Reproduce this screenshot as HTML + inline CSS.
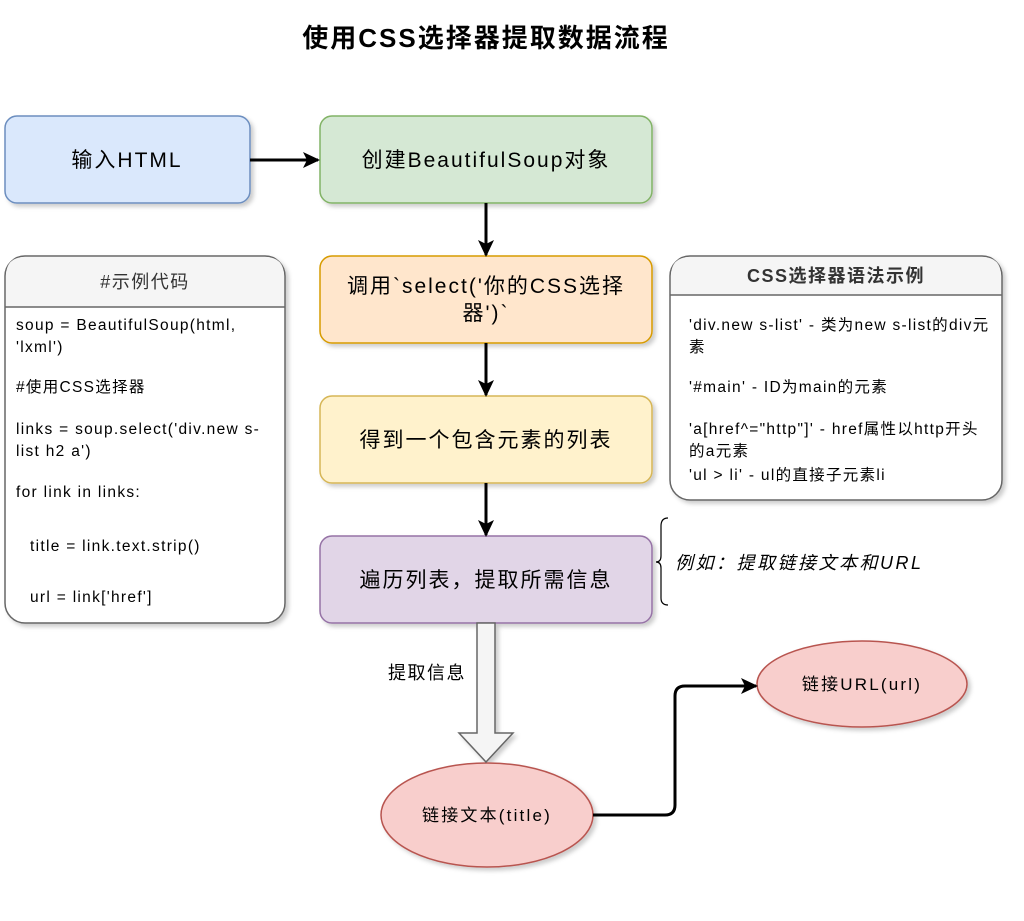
<!DOCTYPE html>
<html><head><meta charset="utf-8"><style>
html,body{margin:0;padding:0;background:#fff;}
svg text{font-family:"Liberation Sans","Noto Sans CJK SC",sans-serif;}
</style></head><body>
<svg width="1024" height="916" viewBox="0 0 1024 916" xmlns="http://www.w3.org/2000/svg">
<defs>
<filter id="sh" x="-10%" y="-10%" width="130%" height="130%"><feDropShadow dx="3" dy="3" stdDeviation="2" flood-color="#000" flood-opacity="0.2"/></filter>
<marker id="ar" markerWidth="18" markerHeight="18" refX="15" refY="8" orient="auto" markerUnits="userSpaceOnUse"><path d="M0,0 L17,8 L0,16 L4,8 Z" fill="#000"/></marker>
</defs>
<text x="486" y="47" text-anchor="middle" font-size="26" font-weight="bold" letter-spacing="2" fill="#000">使用CSS选择器提取数据流程</text>

<g filter="url(#sh)">
<rect x="5" y="116" width="245" height="87" rx="12" fill="#dae8fc" stroke="#6c8ebf" stroke-width="1.5"/>
<rect x="320" y="116" width="332" height="87" rx="12" fill="#d5e8d4" stroke="#82b366" stroke-width="1.5"/>
<rect x="320" y="256" width="332" height="87" rx="12" fill="#ffe6cc" stroke="#d79b00" stroke-width="1.5"/>
<rect x="320" y="396" width="332" height="87" rx="12" fill="#fff2cc" stroke="#d6b656" stroke-width="1.5"/>
<rect x="320" y="536" width="332" height="87" rx="12" fill="#e1d5e7" stroke="#9673a6" stroke-width="1.5"/>
<rect x="5" y="256" width="280" height="367" rx="20" fill="#fff" stroke="#666" stroke-width="1.5"/>
<rect x="670" y="256" width="332" height="244" rx="20" fill="#fff" stroke="#666" stroke-width="1.5"/>
<ellipse cx="487" cy="815" rx="106" ry="52" fill="#f8cecc" stroke="#b85450" stroke-width="1.5"/>
<ellipse cx="862" cy="684" rx="105" ry="43" fill="#f8cecc" stroke="#b85450" stroke-width="1.5"/>
<path d="M477,623 L495,623 L495,733 L513,733 L486,762 L459,733 L477,733 Z" fill="#f5f5f5" stroke="#666" stroke-width="1.5"/>
</g>
<path d="M6,307 L6,276 Q6,257 25,257 L265,257 Q284,257 284,276 L284,307 Z" fill="#f5f5f5"/>
<line x1="5" y1="307" x2="285" y2="307" stroke="#666" stroke-width="1.5"/>
<path d="M671,295 L671,276 Q671,257 690,257 L982,257 Q1001,257 1001,276 L1001,295 Z" fill="#f5f5f5"/>
<line x1="670" y1="295" x2="1002" y2="295" stroke="#666" stroke-width="1.5"/>

<g stroke="#000" stroke-width="3" fill="none">
<line x1="250" y1="160" x2="318" y2="160" marker-end="url(#ar)"/>
<line x1="486" y1="203" x2="486" y2="255" marker-end="url(#ar)"/>
<line x1="486" y1="343" x2="486" y2="395" marker-end="url(#ar)"/>
<line x1="486" y1="483" x2="486" y2="535" marker-end="url(#ar)"/>
<path d="M593,815 L665,815 Q675,815 675,805 L675,696 Q675,686 685,686 L756,686" marker-end="url(#ar)"/>
</g>
<path d="M668,518 Q661,518 661,526 L661,556 Q661,562 656,562 Q661,562 661,568 L661,598 Q661,605 668,605" fill="none" stroke="#000" stroke-width="1.2"/>

<g font-size="21" letter-spacing="2" fill="#000" text-anchor="middle">
<text x="127" y="167">输入HTML</text>
<text x="486" y="167">创建BeautifulSoup对象</text>
<text x="486" y="293">调用`select('你的CSS选择</text>
<text x="486" y="320">器')`</text>
<text x="486" y="447">得到一个包含元素的列表</text>
<text x="486" y="587">遍历列表，提取所需信息</text>
</g>
<g font-size="17" letter-spacing="2.2" fill="#000" text-anchor="middle">
<text x="487" y="821">链接文本(title)</text>
<text x="862" y="690">链接URL(url)</text>
</g>
<rect x="382" y="660" width="90" height="26" fill="#fff"/>
<text x="427" y="679" font-size="18" letter-spacing="1.5" text-anchor="middle">提取信息</text>
<text x="145" y="288" font-size="18" letter-spacing="1.5" text-anchor="middle" fill="#333">#示例代码</text>
<text x="836" y="282" font-size="18" letter-spacing="1.5" font-weight="bold" text-anchor="middle" fill="#333">CSS选择器语法示例</text>
<g font-size="15.5" letter-spacing="1.3" fill="#000">
<text x="16" y="330">soup = BeautifulSoup(html,</text>
<text x="16" y="352">'lxml')</text>
<text x="16" y="392">#使用CSS选择器</text>
<text x="16" y="434">links = soup.select('div.new s-</text>
<text x="16" y="456">list h2 a')</text>
<text x="16" y="497">for link in links:</text>
<text x="30" y="551">title = link.text.strip()</text>
<text x="30" y="602">url = link['href']</text>
<text x="689" y="330">'div.new s-list' - 类为new s-list的div元</text>
<text x="689" y="352">素</text>
<text x="689" y="392">'#main' - ID为main的元素</text>
<text x="689" y="434">'a[href^="http"]' - href属性以http开头</text>
<text x="689" y="456">的a元素</text>
<text x="689" y="480">'ul &gt; li' - ul的直接子元素li</text>
</g>
<text x="675" y="569" font-size="18" letter-spacing="2.5" font-style="italic">例如：提取链接文本和URL</text>
</svg>
</body></html>
